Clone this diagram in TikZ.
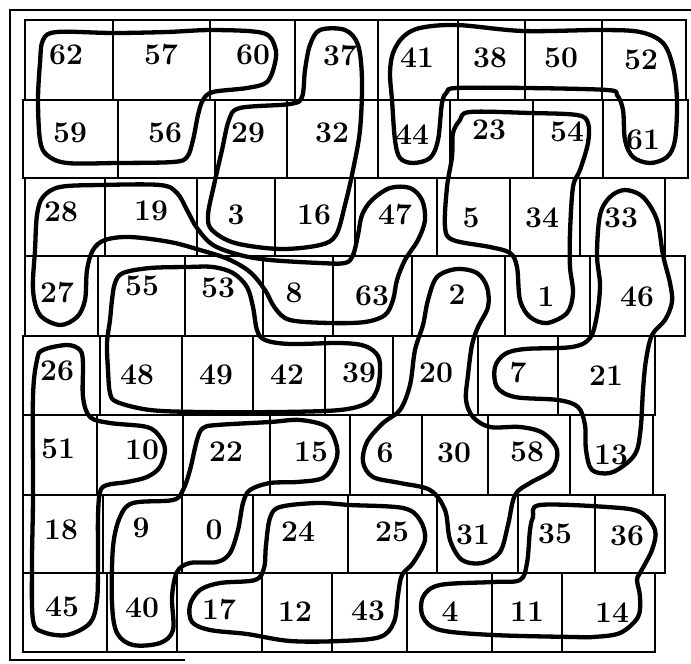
\documentclass[tikz,border=0pt]{standalone}
\begin{document}
\begin{tikzpicture}[x=1pt,y=-1pt]
\tikzset{
  gridline/.style={line width=2pt},
  framel/.style={line width=2.2pt},
  grouploop/.style={line width=4.3pt, line join=round},
  num/.style={font=\fontsize{30}{30}\selectfont\bfseries, inner sep=0pt},
}
\useasboundingbox (0,0) rectangle (691,664);
\fill[white] (0,0) rectangle (691,664);
% outer frame
\draw[framel] (691,10) -- (10,10) -- (10,660) -- (185,660);
% grid rows
\foreach \t/\b/\l/\r/\xs in {
  20/100/25/686/{113,210,295,378,458,525,602},
  100/178/23/688/{118,215,287,378,450,533,603},
  178/256/25/665/{105,197,275,355,437,510,580},
  256/336/25/685/{98,185,263,333,412,505,590},
  336/415/23/655/{100,182,253,325,393,478,558},
  415/495/23/653/{97,183,270,350,422,488,570},
  495/573/23/665/{103,182,253,348,437,518,595},
  573/652/23/655/{107,177,262,332,407,492,562}}{
  \draw[gridline] (\l,\t) rectangle (\r,\b);
  \foreach \x in \xs {\draw[gridline] (\x,\t) -- (\x,\b);}
}
% numbers
\node[num] (n62) at (66,55) {62};
\node[num] (n57) at (161,55) {57};
\node[num] (n60) at (253,55) {60};
\node[num] (n37) at (340,56) {37};
\node[num] (n41) at (417,58) {41};
\node[num] (n38) at (490,58) {38};
\node[num] (n50) at (561,58) {50};
\node[num] (n52) at (641,60) {52};
\node[num] (n59) at (70,133) {59};
\node[num] (n56) at (165,133) {56};
\node[num] (n29) at (248,133) {29};
\node[num] (n32) at (332,133) {32};
\node[num] (n44) at (412,135) {44};
\node[num] (n23) at (489,130) {23};
\node[num] (n54) at (567,132) {54};
\node[num] (n61) at (643,140) {61};
\node[num] (n28) at (61,212) {28};
\node[num] (n19) at (151,211) {19};
\node[num] (n3)  at (236,215) {3};
\node[num] (n16) at (314,215) {16};
\node[num] (n47) at (395,215) {47};
\node[num] (n5)  at (471,218) {5};
\node[num] (n34) at (542,218) {34};
\node[num] (n33) at (621,218) {33};
\node[num] (n27) at (57,293) {27};
\node[num] (n55) at (142,286) {55};
\node[num] (n53) at (218,288) {53};
\node[num] (n8)  at (294,293) {8};
\node[num] (n63) at (372,296) {63};
\node[num] (n2)  at (457,295) {2};
\node[num] (n1)  at (546,297) {1};
\node[num] (n46) at (637,297) {46};
\node[num] (n26) at (57,371) {26};
\node[num] (n48) at (137,375) {48};
\node[num] (n49) at (216,375) {49};
\node[num] (n42) at (287,375) {42};
\node[num] (n39) at (359,373) {39};
\node[num] (n20) at (436,373) {20};
\node[num] (n7)  at (518,373) {7};
\node[num] (n21) at (606,376) {21};
\node[num] (n51) at (58,449) {51};
\node[num] (n10) at (142,450) {10};
\node[num] (n22) at (226,452) {22};
\node[num] (n15) at (311,452) {15};
\node[num] (n6)  at (385,453) {6};
\node[num] (n30) at (454,453) {30};
\node[num] (n58) at (527,452) {58};
\node[num] (n13) at (611,455) {13};
\node[num] (n18) at (61,530) {18};
\node[num] (n9)  at (141,528) {9};
\node[num] (n0)  at (214,530) {0};
\node[num] (n24) at (298,532) {24};
\node[num] (n25) at (392,532) {25};
\node[num] (n31) at (473,535) {31};
\node[num] (n35) at (555,534) {35};
\node[num] (n36) at (627,536) {36};
\node[num] (n45) at (62,607) {45};
\node[num] (n40) at (142,608) {40};
\node[num] (n17) at (219,610) {17};
\node[num] (n12) at (295,612) {12};
\node[num] (n43) at (368,611) {43};
\node[num] (n4)  at (450,612) {4};
\node[num] (n11) at (527,612) {11};
\node[num] (n14) at (612,613) {14};
% group loops
% 62 57 60 59 56
\draw[grouploop] plot[smooth cycle, tension=0.55] coordinates {
 (43,40) (57,32) (113,33) (167,32) (213,30) (263,33) (275,47) (275,63) (267,82)
 (247,88) (213,92) (203,100) (198,115) (193,140) (187,157) (173,162) (117,163)
 (67,163) (47,155) (40,140) (38,100) (40,63)};
% 37 32 29 3 16
\draw[grouploop] plot[smooth cycle, tension=0.55] coordinates {
 (320,30) (345,30) (358,45) (362,80) (360,130) (353,170) (345,205) (336,235)
 (320,245) (280,249) (235,243) (212,230) (208,215) (214,185) (222,150) (229,120)
 (240,108) (290,104) (302,97) (305,70) (310,45)};
% 41 38 50 52 61 44
\draw[grouploop] plot[smooth cycle, tension=0.55] coordinates {
 (393,53) (403,37) (420,28) (457,25) (523,31) (600,30) (640,32) (663,43) (673,67)
 (677,100) (675,140) (667,157) (650,163) (633,157) (625,140) (623,110) (617,95)
 (607,90) (527,88) (457,88) (447,92) (442,103) (438,140) (430,158) (413,163)
 (400,158) (395,140) (392,100) (390,73)};
% 23 54 5 34 1
\draw[grouploop] plot[smooth cycle, tension=0.55] coordinates {
 (460,120) (470,112) (530,113) (577,115) (588,123) (588,143) (580,170) (573,187)
 (570,233) (570,267) (573,293) (567,313) (547,323) (530,317) (520,300) (517,267)
 (510,253) (490,247) (453,240) (445,227) (447,187) (452,157) (453,133)};
% 28 19 27 8 63 47
\draw[grouploop] plot[smooth cycle, tension=0.55] coordinates {
 (43,197) (60,187) (100,185) (160,185) (177,193) (187,210) (197,228) (213,245)
 (240,255) (270,260) (320,263) (345,263) (353,255) (358,235) (362,215) (372,200)
 (390,188) (410,188) (422,200) (425,220) (418,240) (405,260) (397,280) (393,300)
 (385,315) (365,322) (330,323) (290,320) (275,308) (265,290) (250,272) (228,259)
 (200,250) (170,242) (130,237) (105,240) (93,250) (87,270) (85,300) (77,317)
 (60,325) (40,315) (33,290) (35,250) (37,215)};
% 55 53 48 49 42 39
\draw[grouploop] plot[smooth cycle, tension=0.55] coordinates {
 (115,283) (123,273) (150,268) (187,267) (213,267) (233,273) (247,287) (253,307)
 (257,330) (265,340) (290,344) (340,343) (365,346) (378,356) (380,372) (377,390)
 (367,403) (340,410) (280,412) (200,412) (150,410) (117,402) (110,393) (108,370)
 (107,343) (110,320) (112,300)};
% 2 20 6 30 58 31
\draw[grouploop] plot[smooth cycle, tension=0.55] coordinates {
 (437,277) (457,269) (477,273) (487,287) (488,307) (478,327) (472,345) (468,375)
 (466,400) (473,417) (490,427) (520,427) (543,433) (557,450) (552,470) (530,483)
 (515,495) (508,525) (500,552) (482,563) (462,560) (450,540) (445,510) (430,490)
 (400,483) (373,477) (363,462) (367,442) (383,423) (400,410) (410,385) (415,350)
 (423,325) (428,300)};
% 33 46 7 21 13
\draw[grouploop] plot[smooth cycle, tension=0.55] coordinates {
 (600,215) (610,197) (625,190) (643,197) (657,220) (663,255) (670,283) (672,302)
 (665,320) (652,335) (646,360) (643,390) (641,425) (637,450) (627,463) (610,473)
 (592,470) (586,450) (585,425) (578,407) (558,400) (515,397) (497,387) (495,367)
 (505,354) (525,349) (572,347) (590,338) (597,315) (600,285) (597,255)};
% 26 51 10 18 45
\draw[grouploop] plot[smooth cycle, tension=0.55] coordinates {
 (37,360) (43,350) (67,345) (80,350) (83,363) (83,397) (90,417) (110,423)
 (147,427) (160,437) (165,450) (160,467) (147,477) (127,482) (107,485) (100,492)
 (98,517) (98,563) (97,600) (90,623) (67,635) (43,632) (33,620) (32,563)
 (33,497) (33,397)};
% 22 15 9 0 40
\draw[grouploop] plot[smooth cycle, tension=0.55] coordinates {
 (203,428) (217,425) (270,422) (300,420) (327,427) (337,447) (335,463) (323,478)
 (297,482) (270,483) (250,490) (243,503) (238,530) (230,553) (217,562) (190,563)
 (177,572) (172,597) (173,630) (160,643) (133,645) (117,633) (112,603) (113,547)
 (120,517) (133,503) (173,500) (183,490) (190,470) (197,440)};
% 24 25 17 12 43
\draw[grouploop] plot[smooth cycle, tension=0.55] coordinates {
 (270,518) (280,507) (317,503) (350,505) (403,508) (420,520) (425,540) (413,563)
 (402,575) (398,595) (394,622) (380,637) (340,641) (290,641) (247,634) (210,630)
 (192,622) (190,605) (200,590) (220,583) (255,580) (264,568) (266,545)};
% 35 36 4 11 14
\draw[grouploop] plot[smooth cycle, tension=0.55] coordinates {
 (533,517) (540,505) (607,507) (640,512) (655,530) (652,550) (640,573) (637,580)
 (640,597) (638,617) (620,633) (593,637) (573,637) (493,635) (440,630) (423,617)
 (423,597) (440,585) (493,582) (520,580) (527,563) (530,530)};
\end{tikzpicture}
\end{document}
